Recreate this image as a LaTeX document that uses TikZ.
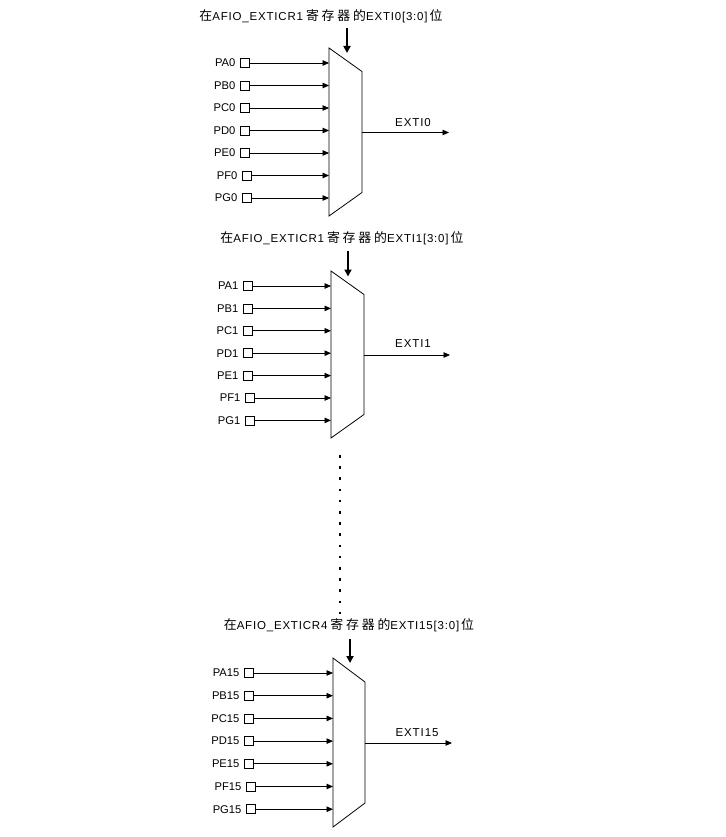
\documentclass[tikz,border=0pt]{standalone}
\usepackage{fontspec}
\setmainfont{Liberation Sans}
\newfontfamily\cjk{Noto Sans CJK SC}[LetterSpace=22,Scale=1.12]
\usetikzlibrary{arrows.meta}
\usetikzlibrary{positioning}

\tikzset{
    muxline/.style={line width=0.8pt},
    pinbox/.style={draw, line width=0.8pt, minimum size=9pt, inner sep=0pt},
    pinlabel/.style={inner sep=0pt, font=\fontsize{11.2}{13}\selectfont},
    sigarrow/.style={line width=0.85pt, -{Triangle[length=6.5pt,width=5.5pt]}},
    selarrow/.style={line width=1.8pt, -{Triangle[length=7pt,width=7pt]}},
    regtitle/.style={inner sep=0pt, font=\fontsize{11.5}{13}\selectfont\addfontfeature{LetterSpace=7}},
    outlabel/.style={inner sep=0pt, font=\fontsize{11.5}{13}\selectfont\addfontfeature{LetterSpace=8}},
}

\begin{document}
\begin{tikzpicture}[x=1pt,y=-1pt]
    \useasboundingbox (0,0) rectangle (725,837);

    % EXTI0
    \begin{scope}[shift={(329,48)}]
        \draw[muxline] (0,0) -- (33,23.5) -- (33,144.5) -- (0,168) -- cycle;
        \node[regtitle] (title0) at (-8,-32) {{\cjk 在}AFIO\_EXTICR1\hspace{3pt}{\cjk 寄存器的}EXTI0[3:0]\hspace{2pt}{\cjk 位}};
        \coordinate (sel0-top) at (18,-20);
        \coordinate (sel0-bot) at (18,5);
        \draw[selarrow] (sel0-top) -- (sel0-bot);
        \foreach \p [count=\k from 0] in {A,B,C,D,E,F,G} {
            \pgfmathsetmacro{\dx}{\k>4 ? 2 : 0}
            \node[pinbox] (sq\p0) at (-84.5+\dx, 15+22.5*\k) {};
            \node[pinlabel, left=4pt of sq\p0] (pin\p0) {P\p0};
            \coordinate (mux0-in\p) at (0, 15+22.5*\k);
            \draw[sigarrow] (sq\p0.east) -- (mux0-in\p);
        }
        \coordinate (mux0-out) at (33,84.5);
        \coordinate (exti0-end) at (120,84.5);
        \draw[sigarrow] (mux0-out) -- (exti0-end);
        \node[outlabel] (exti0) at (84,75) {EXTI0};
    \end{scope}

    % EXTI1
    \begin{scope}[shift={(331,271)}]
        \draw[muxline] (0,0) -- (33,23.5) -- (33,143.5) -- (0,167) -- cycle;
        \node[regtitle] (title1) at (11,-33) {{\cjk 在}AFIO\_EXTICR1\hspace{3pt}{\cjk 寄存器的}EXTI1[3:0]\hspace{2pt}{\cjk 位}};
        \coordinate (sel1-top) at (17,-20);
        \coordinate (sel1-bot) at (17,5.5);
        \draw[selarrow] (sel1-top) -- (sel1-bot);
        \foreach \p [count=\k from 0] in {A,B,C,D,E,F,G} {
            \pgfmathsetmacro{\dx}{\k>4 ? 2 : 0}
            \node[pinbox] (sq\p1) at (-83.5+\dx, 15+22.4*\k) {};
            \node[pinlabel, left=4pt of sq\p1] (pin\p1) {P\p1};
            \coordinate (mux1-in\p) at (0, 15+22.4*\k);
            \draw[sigarrow] (sq\p1.east) -- (mux1-in\p);
        }
        \coordinate (mux1-out) at (33,84);
        \coordinate (exti1-end) at (119,84);
        \draw[sigarrow] (mux1-out) -- (exti1-end);
        \node[outlabel] (exti1) at (82,73) {EXTI1};
    \end{scope}

    % dotted gap
    \coordinate (dots-top) at (340,455);
    \coordinate (dots-bot) at (340,614);
    \draw[line width=1.8pt, dash pattern=on 2.5pt off 8.7pt] (dots-top) -- (dots-bot);

    % EXTI15
    \begin{scope}[shift={(333,658)}]
        \draw[muxline] (0,0) -- (32,24) -- (32,145) -- (0,169) -- cycle;
        \node[regtitle] (title15) at (16,-33) {{\cjk 在}AFIO\_EXTICR4\hspace{3pt}{\cjk 寄存器的}EXTI15[3:0]\hspace{2pt}{\cjk 位}};
        \coordinate (sel15-top) at (17,-19);
        \coordinate (sel15-bot) at (17,5);
        \draw[selarrow] (sel15-top) -- (sel15-bot);
        \foreach \p [count=\k from 0] in {A,B,C,D,E,F,G} {
            \pgfmathsetmacro{\dx}{\k>4 ? 2 : 0}
            \node[pinbox] (sq\p15) at (-84.5+\dx, 15+22.7*\k) {};
            \node[pinlabel, left=4pt of sq\p15] (pin\p15) {P\p15};
            \coordinate (mux15-in\p) at (0, 15+22.7*\k);
            \draw[sigarrow] (sq\p15.east) -- (mux15-in\p);
        }
        \coordinate (mux15-out) at (32,85);
        \coordinate (exti15-end) at (119,85);
        \draw[sigarrow] (mux15-out) -- (exti15-end);
        \node[outlabel] (exti15) at (84,75) {EXTI15};
    \end{scope}
\end{tikzpicture}
\end{document}
